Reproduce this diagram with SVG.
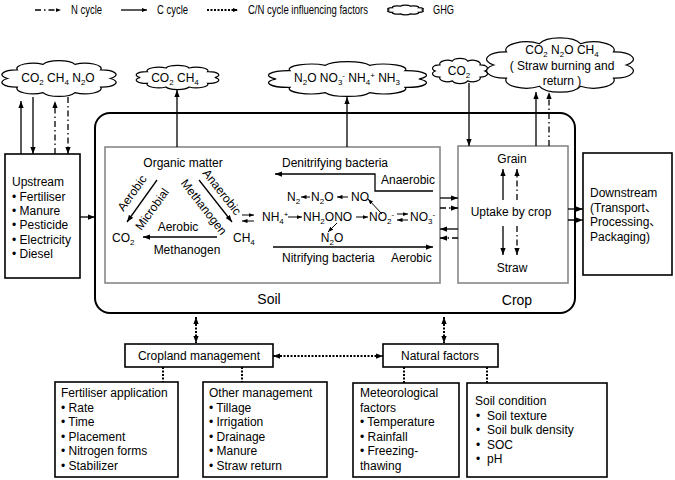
<svg xmlns="http://www.w3.org/2000/svg" width="675" height="480" viewBox="0 0 675 480">
<style>
.t{font-family:"Liberation Sans",Arial,"Noto Sans CJK SC",sans-serif;font-size:12px;fill:#000}
.m{text-anchor:middle}
.big{font-size:14px}
.s{font-size:8px}
.c{stroke:#000;stroke-width:1.3;fill:none}
.n{stroke-dasharray:6 3 1.5 3}
.d{stroke-width:2;stroke-dasharray:2 1.5}
.thin{stroke-width:1}
.box{fill:#fff;stroke:#000;stroke-width:1.6}
.gbox{fill:#fff;stroke:#888;stroke-width:1.6}
.cl{fill:#fff;stroke:#000;stroke-width:1.2}
</style>
<defs>
<path id="cloud" class="cl" vector-effect="non-scaling-stroke" d="M4,50 A13.2,13.2 0 0 1 12.8,26.5 A14.3,14.3 0 0 1 35.8,12 A14.9,14.9 0 0 1 64.2,12 A14.3,14.3 0 0 1 87.2,26.5 A13.2,13.2 0 0 1 96,50 A13.2,13.2 0 0 1 87.2,73.5 A14.3,14.3 0 0 1 64.2,88 A14.9,14.9 0 0 1 35.8,88 A14.3,14.3 0 0 1 12.8,73.5 A13.2,13.2 0 0 1 4,50 Z"/>
<marker id="ah" viewBox="0 0 8 6" refX="8" refY="3" markerWidth="7" markerHeight="5.5" markerUnits="userSpaceOnUse" orient="auto-start-reverse"><path d="M0,0L8,3L0,6z" fill="#000"/></marker>
<marker id="as" viewBox="0 0 8 6" refX="8" refY="3" markerWidth="5.5" markerHeight="4.5" markerUnits="userSpaceOnUse" orient="auto-start-reverse"><path d="M0,0L8,3L0,6z" fill="#000"/></marker>
</defs>

<g id="legend">
<path class="c n" d="M35,10H61" marker-end="url(#as)"/>
<text class="t" x="71" y="14" textLength="31" lengthAdjust="spacingAndGlyphs">N cycle</text>
<path class="c" d="M121,10H147" marker-end="url(#as)"/>
<text class="t" x="157" y="14" textLength="31" lengthAdjust="spacingAndGlyphs">C cycle</text>
<path class="c d" d="M207,10H238" marker-end="url(#as)"/>
<text class="t" x="248" y="14" textLength="120" lengthAdjust="spacingAndGlyphs">C/N cycle influencing factors</text>
<use href="#cloud" transform="translate(388,5) scale(0.35,0.1)"/>
<text class="t" x="433" y="14" textLength="21" lengthAdjust="spacingAndGlyphs">GHG</text>
</g>

<g id="cloud-upstream">
<use href="#cloud" transform="translate(3,60) scale(1.12,0.37)"/>
<text class="t m" x="58" y="82">CO<tspan class="s" dy="3">2</tspan><tspan dy="-3"> CH</tspan><tspan class="s" dy="3">4</tspan><tspan dy="-3"> N</tspan><tspan class="s" dy="3">2</tspan><tspan dy="-3">O</tspan></text>
</g>
<g id="cloud-soil-c">
<use href="#cloud" transform="translate(137,65) scale(0.81,0.25)"/>
<text class="t m" x="175" y="82">CO<tspan class="s" dy="3">2</tspan><tspan dy="-3"> CH</tspan><tspan class="s" dy="3">4</tspan></text>
</g>
<g id="cloud-soil-n">
<use href="#cloud" transform="translate(270,61) scale(1.55,0.36)"/>
<text class="t m" x="347" y="82">N<tspan class="s" dy="3">2</tspan><tspan dy="-3">O NO</tspan><tspan class="s" dy="3">3</tspan><tspan class="s" dy="-7">-</tspan><tspan dy="4"> NH</tspan><tspan class="s" dy="3">4</tspan><tspan class="s" dy="-7">+</tspan><tspan dy="4"> NH</tspan><tspan class="s" dy="3">3</tspan></text>
</g>
<g id="cloud-crop-co2">
<use href="#cloud" transform="translate(433,58) scale(0.54,0.26)"/>
<text class="t m" x="459" y="75">CO<tspan class="s" dy="3">2</tspan></text>
</g>
<g id="cloud-straw">
<use href="#cloud" transform="translate(488,37) scale(1.44,0.56)"/>
<text class="t m" x="562" y="54">CO<tspan class="s" dy="2.5">2</tspan><tspan dy="-2.5"> N</tspan><tspan class="s" dy="2.5">2</tspan><tspan dy="-2.5">O CH</tspan><tspan class="s" dy="2.5">4</tspan></text>
<text class="t m" x="562" y="69.5">( Straw burning and</text>
<text class="t m" x="562" y="84.5">return )</text>
</g>

<g id="upstream">
<rect class="box" x="5" y="154" width="75" height="124"/>
<text class="t" x="12" y="186">Upstream</text>
<text class="t" x="12" y="201">• Fertiliser</text>
<text class="t" x="12" y="215">• Manure</text>
<text class="t" x="12" y="229">• Pesticide</text>
<text class="t" x="12" y="244">• Electricity</text>
<text class="t" x="12" y="258">• Diesel</text>
</g>

<g id="system">
<rect x="95" y="113" width="480" height="200" rx="15" fill="none" stroke="#000" stroke-width="2"/>
<text class="t big m" x="269" y="304">Soil</text>
<text class="t big m" x="517" y="305">Crop</text>
</g>

<g id="soil">
<rect class="gbox" x="105" y="147" width="335" height="136"/>
<text class="t m" x="183" y="167">Organic matter</text>
<text class="t m" transform="translate(132,193) rotate(-54)" dy="0.35em">Aerobic</text>
<text class="t m" transform="translate(152,209) rotate(-54)" dy="0.35em">Microbial</text>
<text class="t m" transform="translate(222,192) rotate(52)" dy="0.35em">Anaerobic</text>
<text class="t m" transform="translate(204,207) rotate(52)" dy="0.35em">Methanogen</text>
<text class="t" x="112" y="242">CO<tspan class="s" dy="3">2</tspan></text>
<text class="t" x="233" y="242">CH<tspan class="s" dy="3">4</tspan></text>
<text class="t m" x="178" y="231">Aerobic</text>
<text class="t m" x="187" y="254">Methanogen</text>
<text class="t m" x="335" y="167">Denitrifying bacteria</text>
<text class="t" x="381" y="184">Anaerobic</text>
<text class="t" x="287" y="201">N<tspan class="s" dy="3">2</tspan></text>
<text class="t" x="311" y="201">N<tspan class="s" dy="3">2</tspan><tspan dy="-3">O</tspan></text>
<text class="t" x="351" y="201">NO</text>
<text class="t" x="262" y="221">NH<tspan class="s" dy="3">4</tspan><tspan class="s" dy="-7">+</tspan></text>
<text class="t" x="303" y="221">NH<tspan class="s" dy="3">2</tspan><tspan dy="-3">ONO</tspan></text>
<text class="t" x="369" y="221">NO<tspan class="s" dy="3">2</tspan><tspan class="s" dy="-7">-</tspan></text>
<text class="t" x="410" y="221">NO<tspan class="s" dy="3">3</tspan><tspan class="s" dy="-7">-</tspan></text>
<text class="t m" x="332" y="242">N<tspan class="s" dy="3">2</tspan><tspan dy="-3">O</tspan></text>
<text class="t" x="282" y="262">Nitrifying bacteria</text>
<text class="t" x="391" y="262">Aerobic</text>
</g>

<g id="crop">
<rect class="gbox" x="458" y="146" width="110" height="137"/>
<text class="t m" x="512" y="163">Grain</text>
<text class="t m" x="511" y="216">Uptake by crop</text>
<text class="t m" x="512" y="272">Straw</text>
</g>

<g id="downstream">
<rect class="box" x="583" y="153" width="89" height="122"/>
<text class="t" x="590" y="197">Downstream</text>
<text class="t" x="590" y="212">(Transport、</text>
<text class="t" x="590" y="226">Processing、</text>
<text class="t" x="590" y="241">Packaging)</text>
</g>

<g id="cropland">
<rect class="box" x="125" y="344" width="148" height="23"/>
<text class="t m" x="199" y="360">Cropland management</text>
</g>
<g id="natural">
<rect class="box" x="383" y="344" width="115" height="23"/>
<text class="t m" x="440" y="360">Natural factors</text>
</g>
<g id="fertiliser">
<rect class="box" x="55" y="382" width="123" height="95"/>
<text class="t" x="61" y="397">Fertiliser application</text>
<text class="t" x="61" y="411.5">• Rate</text>
<text class="t" x="61" y="426">• Time</text>
<text class="t" x="61" y="440.5">• Placement</text>
<text class="t" x="61" y="455">• Nitrogen forms</text>
<text class="t" x="61" y="469.5">• Stabilizer</text>
</g>
<g id="other">
<rect class="box" x="203" y="382" width="124" height="95"/>
<text class="t" x="209" y="397">Other management</text>
<text class="t" x="209" y="411.5">• Tillage</text>
<text class="t" x="209" y="426">• Irrigation</text>
<text class="t" x="209" y="440.5">• Drainage</text>
<text class="t" x="209" y="455">• Manure</text>
<text class="t" x="209" y="469.5">• Straw return</text>
</g>
<g id="meteo">
<rect class="box" x="353" y="383" width="106" height="94"/>
<text class="t" x="360" y="397">Meteorological</text>
<text class="t" x="360" y="411.5">factors</text>
<text class="t" x="360" y="426">• Temperature</text>
<text class="t" x="360" y="440.5">• Rainfall</text>
<text class="t" x="360" y="455">•  Freezing-</text>
<text class="t" x="360" y="469.5">thawing</text>
</g>
<g id="soilcond">
<rect class="box" x="467" y="383" width="140" height="94"/>
<text class="t" x="475" y="405">Soil condition</text>
<text class="t" x="476" y="419.5">•</text><text class="t" x="487" y="419.5">Soil texture</text>
<text class="t" x="476" y="434">•</text><text class="t" x="487" y="434">Soil bulk density</text>
<text class="t" x="476" y="448.5">•</text><text class="t" x="487" y="448.5">SOC</text>
<text class="t" x="476" y="463">•</text><text class="t" x="487" y="463">pH</text>
</g>

<g id="connectors">
<path class="c" d="M21,154V101" marker-end="url(#ah)"/>
<path class="c" d="M33,97V154" marker-end="url(#ah)"/>
<path class="c n" d="M55,154V101" marker-end="url(#ah)"/>
<path class="c n" d="M68,97V154" marker-end="url(#ah)"/>
<path class="c" d="M80,217H95" marker-end="url(#ah)"/>
<path class="c" d="M177,147V90" marker-end="url(#ah)"/>
<path class="c" d="M347,147V97" marker-end="url(#ah)"/>
<path class="c" d="M469,83V146" marker-end="url(#ah)"/>
<path class="c" d="M536,146V92" marker-end="url(#ah)"/>
<path class="c n" d="M549,146V92" marker-end="url(#ah)"/>
<path class="c" d="M440,198H458" marker-end="url(#ah)"/>
<path class="c n" d="M440,208H458" marker-end="url(#ah)"/>
<path class="c" d="M458,229H440" marker-end="url(#ah)"/>
<path class="c n" d="M458,238H440" marker-end="url(#ah)"/>
<path class="c" d="M568,209H583" marker-end="url(#ah)"/>
<path class="c n" d="M568,220H583" marker-end="url(#ah)"/>
<path class="c" d="M503,200V169" marker-end="url(#ah)"/>
<path class="c n" d="M517,200V169" marker-end="url(#ah)"/>
<path class="c" d="M503,226V255" marker-end="url(#ah)"/>
<path class="c n" d="M517,226V255" marker-end="url(#ah)"/>
<path class="c" d="M157,180L127,222" marker-end="url(#ah)"/>
<path class="c" d="M199,180L232,222" marker-end="url(#ah)"/>
<path class="c" d="M217,237H143" marker-end="url(#ah)"/>
<path class="c" d="M433,191H375V174H275" marker-end="url(#ah)"/>
<path class="c" d="M273,247H433" marker-end="url(#ah)"/>
<path class="c thin" d="M242,215H254" marker-end="url(#as)"/>
<path class="c thin" d="M254,221H242" marker-end="url(#as)"/>
<path class="c thin" d="M397,214H408" marker-end="url(#as)"/>
<path class="c thin" d="M408,220H397" marker-end="url(#as)"/>
<path class="c thin" d="M288,217H302" marker-end="url(#as)"/>
<path class="c thin" d="M356,217H368" marker-end="url(#as)"/>
<path class="c thin" d="M310,197H301" marker-end="url(#as)"/>
<path class="c thin" d="M348,197H337" marker-end="url(#as)"/>
<path class="c thin" d="M382,214L368,199" marker-end="url(#as)"/>
<path class="c thin" d="M337,223L328,232" marker-end="url(#as)"/>
<path class="c d" d="M196,317V343" marker-start="url(#ah)" marker-end="url(#ah)"/>
<path class="c d" d="M444,317V343" marker-start="url(#ah)" marker-end="url(#ah)"/>
<path class="c d" d="M273,356H383" marker-start="url(#ah)" marker-end="url(#ah)"/>
<path class="c d" d="M163,367V382"/>
<path class="c d" d="M242,367V382"/>
<path class="c d" d="M404,367V383"/>
<path class="c d" d="M487,367V383"/>
</g>
</svg>
